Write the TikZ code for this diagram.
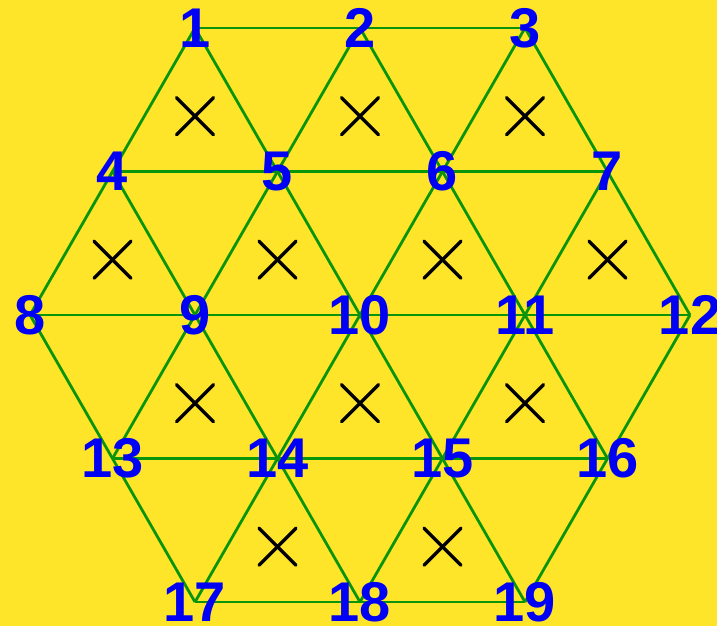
\documentclass[tikz,border=0pt]{standalone}
\usepackage{fontspec}
\setmainfont{Liberation Sans}
\usetikzlibrary{calc}
\definecolor{bgyellow}{RGB}{255,229,42}
\definecolor{edgegreen}{RGB}{10,148,10}
\definecolor{labelblue}{RGB}{0,0,245}
\tikzset{
  edge/.style={draw=edgegreen, line width=2.8pt},
  vlabel/.style={inner sep=0pt, text=labelblue, font=\fontsize{56}{56}\selectfont\bfseries},
  crossmark/.style={draw=black, line width=3.4pt, line cap=round}
}
\begin{document}
\begin{tikzpicture}[x=1pt,y=-1pt]
\fill[bgyellow] (0,0) rectangle (717,626);
\useasboundingbox (0,0) rectangle (717,626);
% vertices
\foreach \n/\x/\y in {1/195/28,2/360/28,3/525/28,
  4/112.5/171.5,5/277.5/171.5,6/442.5/171.5,7/607.5/171.5,
  8/30/315,9/195/315,10/360/315,11/525/315,12/690/315,
  13/112.5/458.5,14/277.5/458.5,15/442.5/458.5,16/607.5/458.5,
  17/195/602,18/360/602,19/525/602}
  \coordinate (p\n) at (\x,\y);
% edges
\foreach \a/\b in {1/3,4/7,8/12,13/16,17/19,
  8/17,4/18,1/19,2/16,3/12,
  1/8,2/13,3/17,7/18,12/19}
  \draw[edge] (p\a) -- (p\b);
% crosses in upward triangles
\foreach \a/\b/\c in {1/4/5,2/5/6,3/6/7,4/8/9,5/9/10,6/10/11,7/11/12,
  9/13/14,10/14/15,11/15/16,14/17/18,15/18/19}{
  \coordinate (c\a) at ($($(p\b)!0.5!(p\c)$)!0.3333!(p\a) + (0,-7.5)$);
  \draw[crossmark] ($(c\a)+(-18.5,-18.5)$) -- ($(c\a)+(18.5,18.5)$);
  \draw[crossmark] ($(c\a)+(-18.5,18.5)$) -- ($(c\a)+(18.5,-18.5)$);
}
% labels
\foreach \n in {1,...,19}
  \node[vlabel] (n\n) at (p\n) {\n};
\end{tikzpicture}
\end{document}
